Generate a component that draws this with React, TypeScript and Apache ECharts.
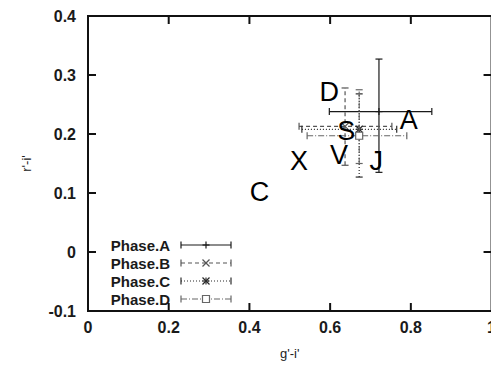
import React, { useEffect, useRef } from "react";
import * as echarts from "echarts";

const phaseNames = ["Phase.A", "Phase.B", "Phase.C", "Phase.D"];
const phaseX = [0.721, 0.637, 0.672, 0.672];
const phaseXLow = [0.598, 0.523, 0.53, 0.543];
const phaseXHigh = [0.852, 0.753, 0.765, 0.79];
const phaseY = [0.238, 0.213, 0.208, 0.197];
const phaseYLow = [0.135, 0.147, 0.127, 0.15];
const phaseYHigh = [0.327, 0.278, 0.268, 0.275];
const phaseMarkers = ["plus", "cross", "star", "square"];
const phaseDash: (number[] | null)[] = [null, [4, 3], [1, 2], [6, 2, 1, 2]];
const phaseColors = ["#1a1a1a", "#555555", "#2a2a2a", "#666666"];

const letterNames = ["A", "D", "S", "V", "J", "X", "C"];
const letterX = [0.795, 0.598, 0.64, 0.622, 0.714, 0.523, 0.425];
const letterY = [0.223, 0.272, 0.205, 0.165, 0.155, 0.155, 0.102];

const xTickLabels = ["0", "0.2", "0.4", "0.6", "0.8", "1"];
const yTickLabels = ["-0.1", "0", "0.1", "0.2", "0.3", "0.4"];
const xTickValues = [0.2, 0.4, 0.6, 0.8];
const yTickValues = [0, 0.1, 0.2, 0.3];

const FONT = "Liberation Sans";

function lineEl(x1: number, y1: number, x2: number, y2: number, style: any) {
  return { type: "line", shape: { x1, y1, x2, y2 }, style: { ...style } };
}

function markerEls(kind: string, cx: number, cy: number, color: string) {
  const s = { stroke: color, lineWidth: 1.2, fill: "none" };
  const r = 3.5;
  if (kind === "plus") return [lineEl(cx - r, cy, cx + r, cy, s), lineEl(cx, cy - r, cx, cy + r, s)];
  if (kind === "cross") return [lineEl(cx - r, cy - r, cx + r, cy + r, s), lineEl(cx - r, cy + r, cx + r, cy - r, s)];
  if (kind === "star")
    return [
      lineEl(cx - r, cy, cx + r, cy, s),
      lineEl(cx, cy - r, cx, cy + r, s),
      lineEl(cx - r, cy - r, cx + r, cy + r, s),
      lineEl(cx - r, cy + r, cx + r, cy - r, s),
    ];
  return [{ type: "rect", shape: { x: cx - 3.5, y: cy - 3.5, width: 7, height: 7 }, style: { ...s, fill: "#fff" } }];
}

export default function App() {
  const ref = useRef<HTMLDivElement>(null);
  useEffect(() => {
    if (!ref.current) return;
    const chart = echarts.init(ref.current, null, { renderer: "svg" });

    const errorSeries = phaseNames.map((name, i) => ({
      type: "custom",
      name,
      silent: true,
      z: 3,
      data: [[phaseX[i], phaseY[i], phaseXLow[i], phaseXHigh[i], phaseYLow[i], phaseYHigh[i]]],
      renderItem: (params: any, api: any) => {
        const c = api.coord([api.value(0), api.value(1)]);
        const xl = api.coord([api.value(2), api.value(1)]);
        const xh = api.coord([api.value(3), api.value(1)]);
        const yl = api.coord([api.value(0), api.value(4)]);
        const yh = api.coord([api.value(0), api.value(5)]);
        const style: any = { stroke: phaseColors[i], lineWidth: 1.2, fill: "none" };
        if (phaseDash[i]) style.lineDash = phaseDash[i];
        const cap = 3.5;
        const capStyle = { stroke: phaseColors[i], lineWidth: 1.2 };
        return {
          type: "group",
          children: [
            lineEl(xl[0], c[1], xh[0], c[1], style),
            lineEl(c[0], yl[1], c[0], yh[1], style),
            lineEl(xl[0], c[1] - cap, xl[0], c[1] + cap, capStyle),
            lineEl(xh[0], c[1] - cap, xh[0], c[1] + cap, capStyle),
            lineEl(c[0] - cap, yl[1], c[0] + cap, yl[1], capStyle),
            lineEl(c[0] - cap, yh[1], c[0] + cap, yh[1], capStyle),
            ...markerEls(phaseMarkers[i], c[0], c[1], phaseColors[i]),
          ],
        };
      },
    }));

    // Inward ticks on all four sides of the frame, placed through the axes' scales
    const tickStyle = { stroke: "#111", lineWidth: 2 };
    const TL = 8;
    const frameTicks = {
      type: "custom",
      name: "frameTicks",
      silent: true,
      z: 5,
      clip: false,
      data: [[0, 0]],
      renderItem: (p: any, api: any) => {
        const children: any[] = [];
        xTickValues.forEach((v) => {
          const top = api.coord([v, 0.4]);
          const bot = api.coord([v, -0.1]);
          children.push(lineEl(top[0], top[1], top[0], top[1] + TL, tickStyle));
          children.push(lineEl(bot[0], bot[1], bot[0], bot[1] - TL, tickStyle));
        });
        yTickValues.forEach((v) => {
          const l = api.coord([0, v]);
          const r = api.coord([1, v]);
          children.push(lineEl(l[0], l[1], l[0] + TL, l[1], tickStyle));
          children.push(lineEl(r[0], r[1], r[0] - TL, r[1], tickStyle));
        });
        return { type: "group", children };
      },
    };

    const legendEls: any[] = [];
    phaseNames.forEach((name, i) => {
      const y = 245 + 18 * i;
      legendEls.push({
        type: "text",
        x: 170,
        y,
        style: {
          text: name,
          align: "right",
          verticalAlign: "middle",
          fontFamily: FONT,
          fontWeight: "bold",
          fontSize: 15,
          fill: "#1a1a1a",
        },
      });
      const st: any = { stroke: phaseColors[i], lineWidth: 1.2 };
      if (phaseDash[i]) st.lineDash = phaseDash[i];
      legendEls.push(lineEl(181, y, 231, y, st));
      legendEls.push(lineEl(181, y - 3.5, 181, y + 3.5, { stroke: phaseColors[i], lineWidth: 1.2 }));
      legendEls.push(lineEl(231, y - 3.5, 231, y + 3.5, { stroke: phaseColors[i], lineWidth: 1.2 }));
      markerEls(phaseMarkers[i], 206, y, phaseColors[i]).forEach((e) => legendEls.push(e));
    });

    const fmt = (labels: string[]) => (v: number) => {
      const s = String(+v.toFixed(1));
      return labels.includes(s) ? s : "";
    };

    const mkLine = () => ({ show: true, onZero: false, lineStyle: { color: "#111", width: 2 } });
    const labelStyle = { fontFamily: FONT, fontWeight: "bold", fontSize: 16, color: "#1a1a1a" };

    chart.setOption({
      animation: false,
      backgroundColor: "#ffffff",
      grid: { left: 88, right: 6, top: 16, bottom: 49, show: true, borderColor: "#111", borderWidth: 2, backgroundColor: "transparent" },
      xAxis: {
        type: "value",
        min: 0,
        max: 1,
        interval: 0.2,
        position: "bottom",
        axisLine: mkLine(),
        axisTick: { show: false },
        splitLine: { show: false },
        axisLabel: { ...labelStyle, margin: 8, formatter: fmt(xTickLabels), showMinLabel: true, showMaxLabel: true },
        name: "g'-i'",
        nameLocation: "middle",
        nameGap: 36,
        nameTextStyle: { fontFamily: FONT, fontSize: 13, color: "#222" },
      },
      yAxis: {
        type: "value",
        min: -0.1,
        max: 0.4,
        interval: 0.1,
        position: "left",
        axisLine: mkLine(),
        axisTick: { show: false },
        splitLine: { show: false },
        axisLabel: { ...labelStyle, margin: 12, formatter: fmt(yTickLabels), showMinLabel: true, showMaxLabel: true },
        name: "r'-i'",
        nameLocation: "middle",
        nameGap: 55,
        nameRotate: 90,
        nameTextStyle: { fontFamily: FONT, fontSize: 13, color: "#222" },
      },
      series: [
        ...errorSeries,
        frameTicks,
        {
          type: "scatter",
          name: "labels",
          silent: true,
          z: 4,
          symbolSize: 1,
          itemStyle: { color: "#ffffff", opacity: 0 },
          data: letterNames.map((n, i) => ({ name: n, value: [letterX[i], letterY[i]] })),
          label: {
            show: true,
            position: "inside",
            formatter: (p: any) => p.name,
            fontFamily: FONT,
            fontSize: 27,
            color: "#000000",
            opacity: 1,
          },
        },
      ],
      graphic: legendEls,
    });
    return () => chart.dispose();
  }, []);
  return <div ref={ref} style={{ width: 499, height: 365, marginLeft: -8, marginTop: -8 }} />;
}
